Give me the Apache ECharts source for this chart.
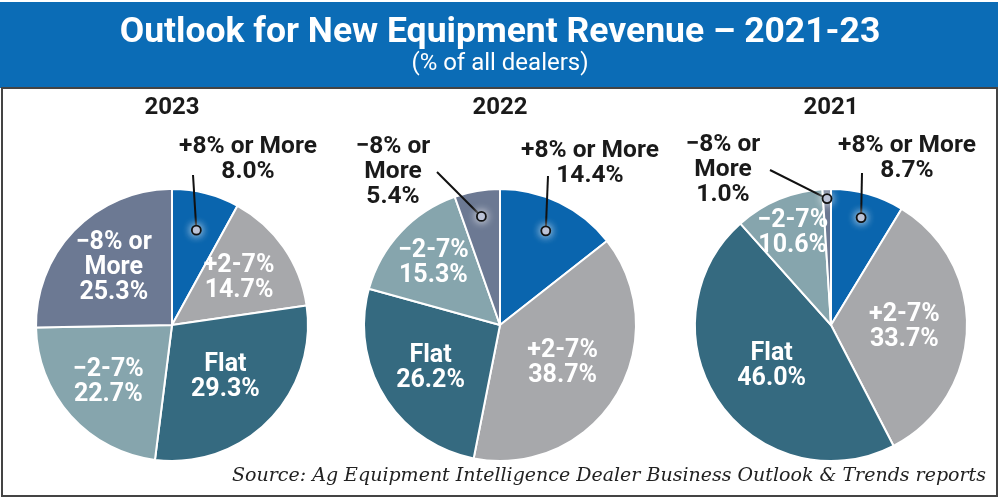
<!DOCTYPE html>
<html><head><meta charset="utf-8">
<script src="https://cdn.jsdelivr.net/npm/echarts@6/dist/echarts.min.js"></script>
<style>html,body{margin:0;padding:0;background:#fff}#c{width:1000px;height:501px}</style>
</head><body><div id="c"></div>
<script>
// ---- data ----
const categories = ['+8% or More', '+2-7%', 'Flat', '\u22122-7%', '\u22128% or More'];
const years = ['2023', '2022', '2021'];
const values2023 = [8.0, 14.7, 29.3, 22.7, 25.3];
const values2022 = [14.4, 38.7, 26.2, 15.3, 5.4];
const values2021 = [8.7, 33.7, 46.0, 10.6, 1.0];
const titleText = 'Outlook for New Equipment Revenue \u2013 2021-23';
const subtitleText = '(% of all dealers)';
const sourceText = 'Source: Ag Equipment Intelligence Dealer Business Outlook & Trends reports';

// ---- styles / layout ----
const sliceColors = ['#0a65ae', '#a7a8ab', '#356a80', '#86a5ad', '#6c7993'];
const seriesValues = [values2023, values2022, values2021];
const centers = [[172, 325], [500, 325], [831, 325]];
const R = 136;
const NARROW = '"Roboto", "DejaVu Sans Condensed", sans-serif';
const insideFrac = [[0, 0.6, 0.55, 0.63, 0.6], [0, 0.54, 0.6, 0.67, 0], [0, 0.54, 0.53, 0.73, 0]];
const outer = {
  '0-0': { text: [76, -166], start: [21, -150], frac: 0.72 },
  '1-0': { text: [90, -162], start: [48, -149], frac: 0.77 },
  '1-4': { text: [-107, -153], start: [-63, -153], frac: 0.81 },
  '2-0': { text: [76, -167], start: [31, -152], frac: 0.82 },
  '2-4': { text: [-108, -155], start: [-61, -155], frac: 0.93 }
};

function midAngle(vals, i) {
  const total = vals.reduce((a, b) => a + b, 0);
  let before = 0;
  for (let k = 0; k < i; k++) before += vals[k];
  return (before + vals[i] / 2) / total * Math.PI * 2;
}
function polar(s, i, frac) {
  const a = midAngle(seriesValues[s], i);
  const c = centers[s];
  return [c[0] + R * frac * Math.sin(a), c[1] - R * frac * Math.cos(a)];
}
function labelName(name) {
  return name === '\u22128% or More' ? '\u22128% or\nMore' : name;
}

const graphics = [
  { type: 'rect', z: 0, shape: { x: 0, y: 2, width: 998, height: 86 }, style: { fill: '#0b6cb6' } },
  { type: 'rect', z: 0, shape: { x: 2, y: 88, width: 995, height: 408 }, style: { fill: 'none', stroke: '#444', lineWidth: 2 } }
];
Object.keys(outer).forEach(key => {
  const [s, i] = key.split('-').map(Number);
  const o = outer[key];
  const c = centers[s];
  const p = polar(s, i, o.frac);
  graphics.push({ type: 'line', z: 20, shape: { x1: c[0] + o.start[0], y1: c[1] + o.start[1], x2: p[0], y2: p[1] }, style: { stroke: '#111', lineWidth: 2 } });
  graphics.push({ type: 'circle', z: 21, shape: { cx: p[0], cy: p[1], r: 4.5 }, style: { fill: '#aab3cc', stroke: '#111', lineWidth: 1.8, shadowColor: 'rgba(255,255,255,0.9)', shadowBlur: 8 } });
});

const titles = [
  { text: titleText, left: 'center', top: 15, padding: 0, z: 10, textStyle: { color: '#fff', fontSize: 35.5, fontWeight: 'bold', fontFamily: NARROW } },
  { text: subtitleText, left: 'center', top: 52, padding: 0, z: 10, textStyle: { color: '#fff', fontSize: 24, fontWeight: 'normal', fontFamily: NARROW } },
  { text: sourceText, right: 14, top: 467, padding: 0, z: 10, textStyle: { color: '#222', fontSize: 19, fontStyle: 'italic', fontWeight: 'normal', fontFamily: '"DejaVu Serif", serif' } }
];
years.forEach((y, s) => {
  titles.push({ text: y, left: centers[s][0], top: 96, textAlign: 'center', padding: 0, z: 10, textStyle: { color: '#1a1a1a', fontSize: 24, fontWeight: 'bold', fontFamily: NARROW } });
});

const series = seriesValues.map((vals, s) => ({
  type: 'pie',
  center: centers[s],
  radius: R,
  startAngle: 90,
  clockwise: true,
  silent: true,
  animation: false,
  itemStyle: { borderColor: '#fff', borderWidth: 2 },
  labelLine: { show: false },
  label: {
    show: true,
    position: 'inside',
    color: '#fff',
    fontSize: 25,
    lineHeight: 25,
    fontWeight: 'bold',
    fontFamily: NARROW,
    overflow: 'none',
    formatter: p => labelName(p.name) + '\n' + p.value.toFixed(1) + '%'
  },
  labelLayout: params => {
    const i = params.dataIndex;
    const key = s + '-' + i;
    if (outer[key]) {
      const c = centers[s];
      return { x: c[0] + outer[key].text[0], y: c[1] + outer[key].text[1], align: 'center', verticalAlign: 'middle' };
    }
    const p = polar(s, i, insideFrac[s][i]);
    return { x: p[0], y: p[1], align: 'center', verticalAlign: 'middle' };
  },
  data: vals.map((v, i) => ({
    name: categories[i],
    value: v,
    itemStyle: { color: sliceColors[i] },
    label: outer[s + '-' + i] ? { color: '#1a1a1a', position: 'outside', fontSize: 24.5, overflow: 'none', width: 200 } : {}
  }))
}));

const chart = echarts.init(document.getElementById('c'), null, { renderer: 'canvas' });
chart.setOption({
  backgroundColor: '#fff',
  animation: false,
  title: titles,
  graphic: graphics,
  series: series
});
</script>
</body></html>
